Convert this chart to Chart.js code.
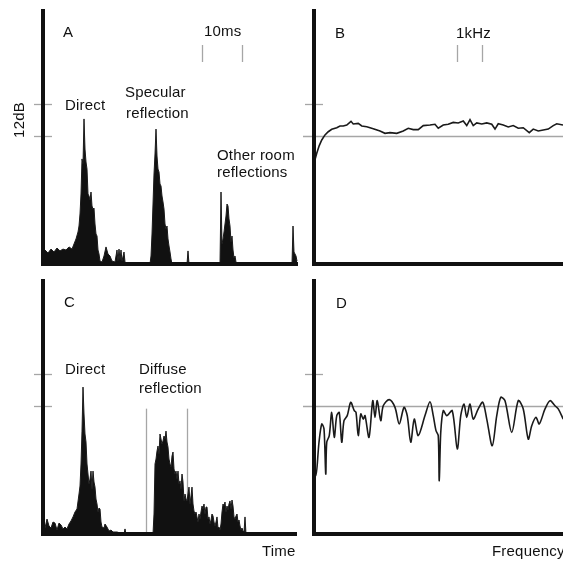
<!DOCTYPE html>
<html>
<head>
<meta charset="utf-8">
<script src="https://cdn.jsdelivr.net/npm/chart.js@4"></script>
<style>
  body { margin: 0; background: #fff; }
  #wrap { position: relative; width: 563px; height: 562px; overflow: hidden; }
  #wrap canvas { position: absolute; left: 0; top: 0; }
</style>
</head>
<body>
<div id="wrap">
  <canvas id="panelA" width="563" height="562"></canvas>
  <canvas id="panelB" width="563" height="562"></canvas>
  <canvas id="panelC" width="563" height="562"></canvas>
  <canvas id="panelD" width="563" height="562"></canvas>
</div>
<script>
// A: impulse response with a specular reflection (time in ms, level in dB above floor)
const aTime = [0, 0.75, 1.5, 2.25, 3, 3.75, 4.5, 5.25, 6, 6.75, 7.5, 8, 8.5, 9, 9.25, 9.5, 9.75, 10, 10.25, 10.5,
  10.75, 11, 11.25, 11.5, 11.75, 12, 12.25, 12.5, 12.75, 13, 13.25, 13.5, 13.75, 14, 14.25, 14.5, 15, 15.5, 16, 16.5,
  17, 17.5, 18.25, 18.75, 19, 19.25, 19.5, 19.75, 20, 20.5, 20.75, 21.25, 27, 27.25, 27.5, 27.75, 28, 28.25, 28.5, 28.75,
  29, 29.25, 29.5, 29.75, 30, 30.25, 30.5, 30.75, 31, 31.25, 31.5, 31.75, 32, 32.25, 32.5, 36.25, 36.5, 36.75, 44.5, 44.75,
  45, 45.25, 45.5, 45.75, 46, 46.25, 46.5, 46.75, 47, 47.25, 47.5, 47.75, 48, 48.25, 48.5, 48.75, 62.5, 62.75, 63, 63.25,
  63.5, 63.75];
const aLevel = [4.5, 5.25, 4.1, 5.6, 4.5, 6, 4.9, 5.6, 5.25, 6.4, 5.6, 7.5, 9.4, 12, 14.25, 18.75, 26.25, 39.4, 37.5, 54.4,
  43.1, 38.25, 35.6, 26.25, 25.5, 24, 27, 21.75, 20.6, 21, 15, 11.25, 10.5, 5.25, 3.75, 1.1, 0.75, 3, 6.4, 3.75,
  3, 1.1, 0.75, 5.25, 1.1, 5.6, 1.5, 5.25, 1.1, 4.5, 0.75, 0, 0, 3, 11.25, 22.5, 33.75, 41.25, 50.6, 40.5,
  35.6, 34.5, 30, 29.25, 25.5, 23.25, 20.6, 15, 13.1, 14.25, 9.4, 6.75, 4.5, 1.9, 0, 0, 4.9, 0, 0, 27,
  7.5, 9.4, 12, 15, 18, 22.5, 21.75, 16.9, 14.25, 8.25, 10.5, 5.25, 2.25, 3, 0.75, 0, 0, 14.25, 4.5, 3.75,
  3, 1.1];

// B: frequency response of A (frequency in kHz, level in dB)
const bFreq = [0, 0.04, 0.15, 0.25, 0.35, 0.48, 0.61, 0.75, 0.95, 1.08, 1.21, 1.35, 1.52, 1.61, 1.81, 1.95, 2.15, 2.41, 2.68, 2.88,
  3.08, 3.35, 3.61, 3.81, 4.01, 4.21, 4.41, 4.68, 4.88, 5.01, 5.21, 5.41, 5.61, 5.81, 6.01, 6.15, 6.28, 6.41, 6.55, 6.75,
  6.95, 7.15, 7.28, 7.41, 7.61, 7.81, 8.01, 8.21, 8.41, 8.65, 8.81, 9.01, 9.21, 9.41, 9.61, 9.75, 10];
const bLevel = [35.6, 37.75, 41.5, 44.4, 46.5, 48.4, 49.6, 50.5, 51.1, 51.75, 51.75, 52.1, 53.5, 52.5, 52.75, 51.75, 51.5, 50.75, 49.9, 49,
  49.25, 49, 49.9, 50.9, 50.4, 50.4, 51.9, 52.1, 52.4, 50.9, 52.1, 52.4, 53.1, 52.9, 53.6, 51.9, 54.1, 51.9, 52.9, 52.5,
  52.9, 52.4, 50.6, 52.6, 52.1, 51.4, 51.9, 50.9, 51.1, 49.25, 50.6, 49.9, 50.25, 50.6, 51.9, 52.6, 52.1];

// C: impulse response with a diffuse reflection
const cTime = [0.25, 0.75, 1.25, 1.75, 2.25, 2.75, 3.25, 3.75, 4.25, 4.75, 5.25, 5.75, 6.25, 6.75, 7.25, 7.75, 8.25, 8.75, 9.25, 9.5,
  9.75, 10, 10.25, 10.5, 10.75, 11, 11.25, 11.5, 11.75, 12, 12.25, 12.5, 12.75, 13, 13.25, 13.5, 13.75, 14, 14.25, 14.5,
  14.75, 15, 15.5, 15.75, 16.25, 16.75, 17.25, 17.75, 18.75, 19.5, 20.5, 20.75, 21, 27.75, 28, 28.25, 28.5, 28.75, 29, 29.25,
  29.5, 29.75, 30, 30.25, 30.5, 30.75, 31, 31.25, 31.5, 31.75, 32, 32.25, 32.5, 32.75, 33, 33.25, 33.5, 33.75, 34, 34.25,
  34.5, 34.75, 35, 35.25, 35.5, 35.75, 36, 36.25, 36.5, 36.75, 37, 37.25, 37.5, 37.75, 38, 38.25, 38.5, 38.75, 39, 39.25,
  39.5, 39.75, 40, 40.25, 40.5, 40.75, 41, 41.25, 41.5, 41.75, 42, 42.25, 42.5, 42.75, 43, 43.25, 43.5, 43.75, 44, 44.25,
  44.5, 44.75, 45, 45.25, 45.5, 45.75, 46, 46.25, 46.5, 46.75, 47, 47.25, 47.5, 47.75, 48, 48.25, 48.5, 48.75, 49, 49.25,
  49.5, 49.75, 50, 50.25, 50.5, 50.75, 51];
const cLevel = [3.75, 2.25, 5.6, 3, 2.25, 4.5, 4.1, 1.5, 4.1, 3.4, 1.9, 2.6, 1.9, 3.75, 4.9, 6.4, 8.25, 9.4, 15, 18,
  26.25, 38.6, 55.1, 45, 37.5, 34.5, 26.25, 22.5, 18.75, 20.6, 23.6, 16.9, 23.6, 19.5, 17.6, 13.1, 11.25, 8.25, 9.75, 9.4,
  4.5, 2.6, 2.25, 3.75, 2.6, 1.1, 1.5, 0.75, 0.75, 0.4, 0, 1.9, 0, 0, 7.5, 26.25, 28.1, 31.1, 33, 30,
  37.5, 35.6, 33.75, 34.9, 36.75, 35.6, 38.6, 34.5, 32.6, 28.1, 26.25, 25.1, 29.25, 30.75, 24.4, 22.5, 23.6, 20.6, 23.6, 18.75,
  19.9, 16.9, 22.5, 19.5, 12.4, 15, 13.1, 12.4, 15, 17.6, 11.25, 14.25, 17.6, 11.25, 8.6, 7.5, 8.25, 6.4, 4.5, 7.5,
  5.6, 8.25, 10.5, 9.4, 11.25, 7.5, 10.1, 10.1, 5.6, 6.4, 3.75, 5.25, 7.5, 6.75, 4.5, 3, 4.5, 6.4, 2.25, 2.6,
  1.5, 3.75, 8.25, 11.25, 10.5, 12, 8.25, 10.5, 9, 11.25, 12.4, 9.4, 12.75, 10.5, 6.4, 5.6, 6.75, 7.5, 4.5, 5.25,
  3, 1.5, 2.25, 1.1, 0.75, 6.4, 0];

// D: frequency response of C
const dFreq = [0.01, 0.12, 0.24, 0.35, 0.44, 0.51, 0.55, 0.65, 0.75, 0.85, 0.95, 1.05, 1.15, 1.24, 1.37, 1.51, 1.65, 1.72, 1.81, 1.91,
  2.01, 2.08, 2.24, 2.39, 2.48, 2.57, 2.71, 2.81, 3.05, 3.28, 3.45, 3.64, 3.77, 3.91, 4.05, 4.21, 4.48, 4.68, 4.81, 4.92,
  5.01, 5.05, 5.11, 5.21, 5.35, 5.57, 5.77, 5.91, 6.04, 6.15, 6.28, 6.41, 6.61, 6.79, 6.95, 7.17, 7.35, 7.51, 7.68, 7.95,
  8.21, 8.41, 8.61, 8.75, 8.92, 9.05, 9.28, 9.48, 9.68, 9.81, 10.01];
const dLevel = [34.4, 21.9, 34.4, 41.25, 39.4, 22.5, 34.4, 36.9, 45.6, 36.25, 44.4, 45.6, 34.4, 42.5, 44.4, 49.4, 46.25, 45.6, 36.9, 45,
  43.1, 44.4, 36.25, 50, 43.75, 50, 42.5, 48.1, 50.4, 47.5, 41.25, 47.5, 44.4, 34.4, 43.1, 36.9, 44.4, 49.6, 44.4, 38.75,
  36.9, 20, 38.1, 46.25, 44.4, 46.25, 31.9, 44.4, 48.75, 43.75, 48.75, 43.1, 46.9, 49.4, 43.1, 33.1, 44.4, 51.25, 50, 38.1,
  50, 46.9, 35.6, 40.6, 43.75, 41.25, 46.9, 50, 48.1, 46.9, 43.1];

// scale marks
const tickLevels = [48, 60];       // the two 12dB ticks
const refLevel = 48;               // grey reference line in B and D
const mark10ms = [40, 50];
const mark1kHz = [5.75, 6.75];
const diffuseWindow = [26, 36.25];
const diffuseTop = 47;

const FONT = '15px "Liberation Sans", Arial, sans-serif';
const GREY = '#a6a6a6';

function toPoints(xs, ys) {
  return xs.map((x, i) => ({ x: x, y: ys[i] }));
}

const decor = {
  id: 'decor',
  beforeDatasetsDraw(chart, args, o) {
    const { ctx, chartArea: a, scales: { x, y } } = chart;
    ctx.save();
    ctx.strokeStyle = GREY;
    ctx.lineWidth = 1.3;
    if (o.refLine) {
      const py = Math.round(y.getPixelForValue(refLevel)) + 0.5;
      ctx.beginPath();
      ctx.moveTo(a.left - 10, py);
      ctx.lineTo(a.right, py);
      ctx.stroke();
    }
    (o.window || []).forEach(v => {
      const px = Math.round(x.getPixelForValue(v)) + 0.5;
      ctx.beginPath();
      ctx.moveTo(px, y.getPixelForValue(diffuseTop));
      ctx.lineTo(px, y.getPixelForValue(0));
      ctx.stroke();
    });
    ctx.restore();
  },
  afterDraw(chart, args, o) {
    const { ctx, chartArea: a, scales: { x, y } } = chart;
    ctx.save();
    // ticks
    ctx.strokeStyle = GREY;
    ctx.lineWidth = 1.3;
    (o.ticks || []).forEach(v => {
      const py = Math.round(y.getPixelForValue(v)) + 0.5;
      ctx.beginPath();
      ctx.moveTo(a.left - 8, py);
      ctx.lineTo(a.left + 10, py);
      ctx.stroke();
    });
    (o.marks || []).forEach(v => {
      const px = Math.round(x.getPixelForValue(v)) + 0.5;
      ctx.beginPath();
      ctx.moveTo(px, a.top + 35);
      ctx.lineTo(px, a.top + 52);
      ctx.stroke();
    });
    // axes
    ctx.strokeStyle = '#111';
    ctx.lineWidth = 4;
    ctx.beginPath();
    ctx.moveTo(a.left + 1, a.top - 1);
    ctx.lineTo(a.left + 1, a.bottom + 2);
    ctx.moveTo(a.left - 1, a.bottom);
    ctx.lineTo(a.right, a.bottom);
    ctx.stroke();
    // texts
    ctx.fillStyle = '#111';
    ctx.font = FONT;
    ctx.letterSpacing = '0.2px';
    ctx.textBaseline = 'alphabetic';
    (o.texts || []).forEach(t => {
      if (t.rot) {
        ctx.save();
        ctx.translate(t.x, t.y);
        ctx.rotate(-Math.PI / 2);
        ctx.textAlign = 'center';
        ctx.fillText(t.s, 0, 0);
        ctx.restore();
      } else {
        ctx.textAlign = 'left';
        ctx.fillText(t.s, t.x, t.y);
      }
    });
    ctx.restore();
  }
};

function makePanel(id, xs, ys, filled, tension, xMax, pad, decorOpts) {
  return new Chart(document.getElementById(id), {
    type: 'line',
    data: {
      datasets: [{
        data: toPoints(xs, ys),
        borderColor: '#1a1a1a',
        backgroundColor: '#111',
        borderWidth: filled ? 1 : 1.6,
        fill: filled ? 'origin' : false,
        pointRadius: 0,
        tension: tension
      }]
    },
    options: {
      responsive: false,
      animation: false,
      devicePixelRatio: 1,
      layout: { padding: pad },
      plugins: { legend: { display: false }, tooltip: { enabled: false }, decor: decorOpts },
      scales: {
        x: { type: 'linear', min: 0, max: xMax, display: false },
        y: { min: 0, max: 95.25, display: false }
      }
    },
    plugins: [decor]
  });
}

makePanel('panelA', aTime, aLevel, true, 0, 64,
  { left: 42, right: 265, top: 10, bottom: 298 },
  {
    ticks: tickLevels, marks: mark10ms,
    texts: [
      { s: 'A', x: 63, y: 37 },
      { s: '10ms', x: 204, y: 36 },
      { s: '12dB', x: 24, y: 120, rot: true },
      { s: 'Direct', x: 65, y: 110 },
      { s: 'Specular', x: 125, y: 97 },
      { s: 'reflection', x: 126, y: 118 },
      { s: 'Other room', x: 217, y: 160 },
      { s: 'reflections', x: 217, y: 177 }
    ]
  });

makePanel('panelB', bFreq, bLevel, false, 0, 10,
  { left: 313, right: 0, top: 10, bottom: 298 },
  {
    ticks: [tickLevels[1]], marks: mark1kHz, refLine: true,
    texts: [
      { s: 'B', x: 335, y: 38 },
      { s: '1kHz', x: 456, y: 38 }
    ]
  });

makePanel('panelC', cTime, cLevel, true, 0, 63.75,
  { left: 42, right: 266, top: 280, bottom: 28 },
  {
    ticks: tickLevels, window: diffuseWindow,
    texts: [
      { s: 'C', x: 64, y: 307 },
      { s: 'Direct', x: 65, y: 374 },
      { s: 'Diffuse', x: 139, y: 374 },
      { s: 'reflection', x: 139, y: 393 },
      { s: 'Time', x: 262, y: 556 }
    ]
  });

makePanel('panelD', dFreq, dLevel, false, 0.3, 10,
  { left: 313, right: 0, top: 280, bottom: 28 },
  {
    ticks: [tickLevels[1]], refLine: true,
    texts: [
      { s: 'D', x: 336, y: 308 },
      { s: 'Frequency', x: 492, y: 556 }
    ]
  });
</script>
</body>
</html>
